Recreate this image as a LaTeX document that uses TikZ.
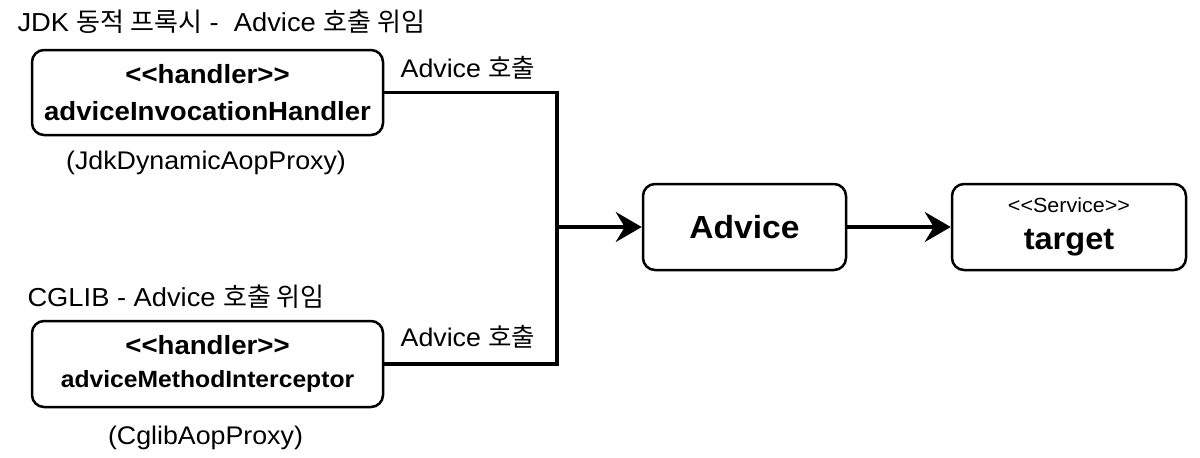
\documentclass[tikz,border=0pt]{standalone}
\usepackage{fontspec}
\setmainfont{Liberation Sans}[FakeStretch=1.05]
\newfontfamily\kr{Noto Sans CJK KR}
\usetikzlibrary{arrows.meta}

\newcommand{\fsz}[1]{\fontsize{#1}{#1}\selectfont}

\tikzset{
  box/.style={draw, line width=2.5pt, rounded corners=12pt, align=center, inner sep=0pt},
  wire/.style={line width=3.5pt},
  arr/.style={wire, -{Stealth[length=26pt, width=30pt, inset=9pt]}},
}

\begin{document}
\begin{tikzpicture}[x=1pt, y=-1pt]
  \useasboundingbox (0,0) rectangle (1200,458);

  \node[anchor=west, font=\fsz{26}] (jdktitle) at (14,22) {JDK {\kr 동적 프록시} -\ \ Advice {\kr 호출 위임}};
  \node[box, minimum width=351pt, minimum height=85pt, font=\fsz{26.3}\bfseries] (jdk) at (207.5,92.5) {<{}<handler>{}>\\[10pt]adviceInvocationHandler};
  \node[font=\fsz{25.5}] (jdkproxy) at (206,163) {(JdkDynamicAopProxy)};

  \node[anchor=west, font=\fsz{26}] (cglibtitle) at (24,297) {CGLIB - Advice {\kr 호출 위임}};
  \node[box, minimum width=351pt, minimum height=86pt, font=\fsz{26.3}\bfseries] (cglib) at (207.5,364) {<{}<handler>{}>\\[7pt]{\fsz{23.5}adviceMethodInterceptor}};
  \node[font=\fsz{25.5}] (cglibproxy) at (205.5,438) {(CglibAopProxy)};

  \node[box, minimum width=203pt, minimum height=86pt, font=\fsz{32}\bfseries] (advice) at (744.5,227) {Advice};
  \node[box, minimum width=234pt, minimum height=86pt] (target) at (1069,227) {{\fsz{20.5}<{}<Service>{}>}\\[16pt]{\fsz{31}\bfseries target}};

  % Advice 호출
  \node[font=\fsz{25.5}] (calljdk) at (468,68) {Advice {\kr 호출}};
  \node[font=\fsz{25.5}] (callcglib) at (468,337) {Advice {\kr 호출}};

  \coordinate (join) at (557,227);
  \draw[wire] (jdk.east) -| (join);
  \draw[wire] (cglib.east) -| (join);
  \draw[arr] (join) -- (advice.west);
  \draw[arr] (advice) -- (target);
\end{tikzpicture}
\end{document}
